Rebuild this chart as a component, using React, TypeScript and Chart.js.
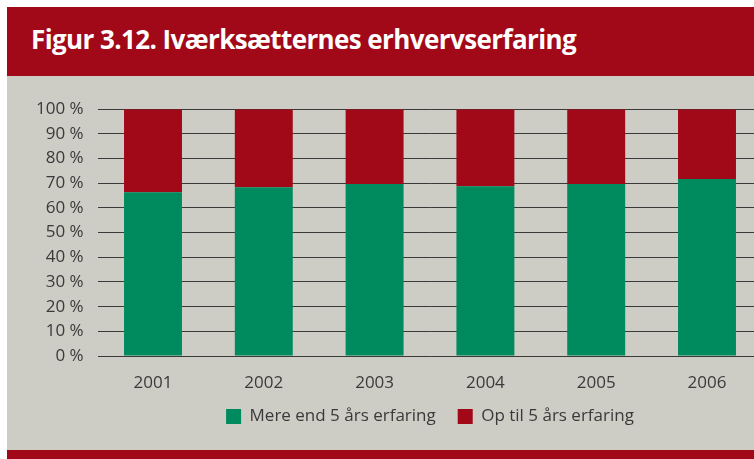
import React, { useEffect, useRef } from "react";
import { Chart, registerables } from "chart.js";

Chart.register(...registerables);

const years = ["2001", "2002", "2003", "2004", "2005", "2006"];
const moreThan5 = [66.4, 68.4, 69.7, 68.8, 69.7, 71.7];
const upTo5 = [33.6, 31.6, 30.3, 31.2, 30.3, 28.3];
const yTicks = [0, 10, 20, 30, 40, 50, 60, 70, 80, 90, 100];
const seriesNames = ["Mere end 5 års erfaring", "Op til 5 års erfaring"];
const title = "Figur 3.12. Iværksætternes erhvervserfaring";

const RED = "#a10818";
const GREEN = "#008b5e";
const GRAY = "#cdccc5";
const TEXT = "#3a3a3a";
const FONT = "'Open Sans', sans-serif";

const legendShift = {
  id: "legendShift",
  afterLayout(chart: any) {
    const lg = chart.legend;
    if (lg) {
      lg.top -= 6.5;
      lg.bottom -= 6.5;
    }
  },
};

export default function App() {
  const ref = useRef<HTMLCanvasElement | null>(null);

  useEffect(() => {
    if (!ref.current) return;
    const chart = new Chart(ref.current, {
      type: "bar",
      data: {
        labels: years,
        datasets: [
          { label: seriesNames[0], data: moreThan5, backgroundColor: GREEN, borderWidth: 0 },
          { label: seriesNames[1], data: upTo5, backgroundColor: RED, borderWidth: 0 },
        ],
      },
      plugins: [legendShift],
      options: {
        responsive: false,
        animation: false,
        maintainAspectRatio: false,
        layout: { padding: { top: 33.3, right: 4.6, bottom: 8.5, left: 0 } },
        datasets: { bar: { categoryPercentage: 1, barPercentage: 0.523 } },
        scales: {
          x: {
            stacked: true,
            grid: { display: false, drawTicks: false },
            border: { display: false },
            ticks: { color: TEXT, font: { family: FONT, size: 17 }, padding: 17 },
            afterFit: (s: any) => { s.height = 36.5; },
          },
          y: {
            stacked: true,
            min: 0,
            max: 100,
            afterBuildTicks: (s: any) => { s.ticks = yTicks.map((v) => ({ value: v })); },
            grid: { color: "#3a3a3a", lineWidth: 1, drawTicks: false },
            border: { display: false },
            ticks: {
              color: TEXT,
              font: { family: FONT, size: 17 },
              padding: 14,
              callback: (v: any) => `${v} %`,
            },
            afterFit: (s: any) => { s.width = 90.6; },
          },
        },
        plugins: {
          legend: {
            position: "bottom",
            fullSize: false,
            labels: {
              boxWidth: 15,
              boxHeight: 15,
              padding: 22,
              color: TEXT,
              font: { family: FONT, size: 17 },
            },
          },
          tooltip: { enabled: false },
          title: { display: false },
        },
      },
    });
    return () => chart.destroy();
  }, []);

  return (
    <div style={{ position: "absolute", left: 0, top: 0, width: 754, height: 459, overflow: "hidden", background: "#fff" }}>
      <div style={{ position: "absolute", left: 7, top: 7, width: 760, height: 69, background: RED }}>
        <div
          style={{
            position: "absolute",
            left: 24,
            top: 14,
            color: "#fff",
            fontFamily: FONT,
            fontWeight: 700,
            fontSize: 26,
            lineHeight: "36px",
            whiteSpace: "nowrap",
            letterSpacing: -0.6,
          }}
        >
          {title}
        </div>
      </div>
      <div style={{ position: "absolute", left: 7, top: 76, width: 760, height: 374, background: GRAY }}>
        <canvas ref={ref} width={760} height={374} style={{ display: "block", width: 760, height: 374 }} />
      </div>
      <div style={{ position: "absolute", left: 7, top: 450, width: 760, height: 20, background: RED }} />
    </div>
  );
}
